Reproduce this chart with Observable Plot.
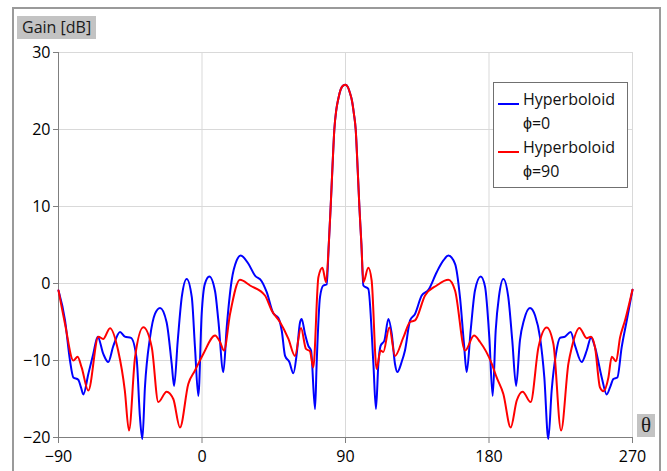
<!DOCTYPE html>
<html>
<head>
<meta charset="utf-8">
<script src="https://cdn.jsdelivr.net/npm/d3@7"></script>
<script src="https://cdn.jsdelivr.net/npm/@observablehq/plot@0.6"></script>
<style>
  html, body { margin: 0; padding: 0; background: #fff; }
  #wrap { position: relative; width: 667px; height: 471px; overflow: hidden; font-family: "Open Sans", sans-serif; }
  #wrap svg { position: absolute; left: 0; top: 0; }
  .frame { position: absolute; left: 12px; top: 7px; width: 649px; height: 500px; border: 2px solid #9a9a9a; border-bottom: none; box-sizing: border-box; pointer-events: none; }
  .ylab { position: absolute; left: 17px; top: 16px; width: 79px; height: 23px; background: #c3c3c3; font-size: 16px; line-height: 23px; padding-left: 5px; box-sizing: border-box; color: #1a1a1a; }
  .xlab { position: absolute; left: 637px; top: 414px; width: 18px; height: 23px; background: #c3c3c3; font-family: "Liberation Serif", "DejaVu Serif", serif; font-size: 21px; line-height: 23px; text-align: center; color: #1a1a1a; }
  .legend { position: absolute; left: 493px; top: 82px; width: 135px; height: 106px; border: 1px solid #707070; background: #fff; box-sizing: border-box; }
  .legend .sw { position: absolute; left: 4px; width: 21px; height: 2px; }
  .legend .tx { position: absolute; left: 29px; font-size: 16px; line-height: 22px; color: #111; white-space: nowrap; }
</style>
</head>
<body>
<div id="wrap"></div>
<script>
// ---- data ----
const xTicks = [-90, 0, 90, 180, 270];
const yTicks = [-20, -10, 0, 10, 20, 30];
const seriesNames = ["Hyperboloid\nϕ=0", "Hyperboloid\nϕ=90"];
const seriesColors = ["#0000ff", "#ff0000"];

const thetaBlue = [-90,-85.9,-82.8,-80.7,-77.6,-75.9,-74.4,-71.3,-68.2,-65.4,-61.9,-58.8,-55.6,-51.4,-48.4,-44.5,-41,-38.9,-37.4,-35.8,-32.6,-29.5,-26.3,-22.2,-19,-17.5,-15.2,-12.7,-9.6,-6.4,-4.4,-2.3,-0.2,1.8,4.6,8.2,10.25,13.4,15.5,18.6,21.75,24.3,29.1,33.2,37.4,40.6,44.7,47.9,50,52.1,54.8,57.3,59.4,61.5,62.5,64.6,66.7,68.4,70.9,71.9,74,76.1,78.2,79.5,80.7,81.8,83,84.2,85.5,87,88.5,90,91.5,93,94,95.3,96.4,97.6,98.7,100,101.2,104.3,107.5,109.1,110.6,112,114.4,116.9,119,121.05,122.5,125.2,127.3,130.5,133.6,137.8,142,147.2,151.4,154.5,158.7,161.8,164.3,166,168.5,171.2,174.8,177.5,180.2,182.3,184.2,186.3,189,192.1,194.6,197,199.4,202,205.7,208.9,212,214.7,217.2,219.3,222,224.5,227.7,231.2,234,238.1,241.3,244,246.5,250.7,253.8,255.9,258,260.5,263.2,266.4,270];
const gainBlue = [-0.9,-4.8,-10,-12.2,-12.5,-13.5,-14.4,-11.75,-9.15,-6.9,-9.15,-10.2,-8.1,-6.3,-6.9,-7.07,-9.8,-17.4,-20.2,-13.5,-7,-3.95,-3.17,-5.03,-10.45,-13.3,-7.4,-1.78,0.6,-1.78,-8.3,-14.6,-3.95,-0.05,0.91,-1,-4.8,-11.5,-5.7,0.39,2.99,3.64,2.56,1.04,0.3,-1.13,-3.86,-4.47,-6.1,-9.4,-10.2,-11.66,-9.15,-5.03,-4.6,-6.55,-8.1,-8.7,-16.3,-10.45,-1.78,-0.26,-0.13,5,10,15,20,22.5,24,25.2,25.7,25.8,25.5,24.6,23.8,22,20,15,10,5,-0.26,-0.7,-10.45,-16.3,-10.45,-8.1,-7.4,-4.6,-6.55,-10.45,-11.5,-10.2,-8.7,-4.8,-3.95,-1.56,-0.83,1.47,2.99,3.64,2.56,-1.78,-7.85,-11.5,-6.1,-0.9,0.91,-0.4,-7,-14.6,-6.1,-1.6,0.6,-1.78,-7.4,-13.3,-7.4,-4.7,-3.17,-4.16,-7,-12.2,-20.2,-13.9,-9.15,-7.07,-6.9,-6.3,-8.1,-10.2,-8.7,-7,-8.3,-12.2,-14.4,-13.5,-12.4,-12.2,-8.3,-4.8,-0.8];

const thetaRed = [-90,-85.9,-80.7,-78,-75.5,-71.3,-65,-62,-57.7,-52.6,-48.4,-45.8,-42,-36.8,-31.5,-27.4,-22.2,-18,-13.8,-8.6,-4.4,0.8,8.2,11.3,13.8,17.6,23.8,30.1,39.5,43.7,48.9,54.2,58.3,62.1,65.2,67.7,69.8,73,75.5,77.8,79.5,80.7,81.8,83,84.2,85.5,87,88.5,90,91.5,93,94,95.3,96.4,97.6,98.7,100,101.2,104.3,106.4,109.5,112,113.7,117.5,121.05,126.3,130.5,133.6,139.9,147.2,154.5,158.7,165,170.6,174.4,181.7,184.8,189,193.6,197.4,201.1,206.1,211,216.2,220.4,225.2,229.8,231.9,236.7,241.3,244,246.5,249.6,251.7,254.9,257,259.7,262.2,265.3,270];
const gainRed = [-0.9,-5.25,-10,-9.5,-10.9,-13.9,-6.9,-7.2,-5.8,-8.7,-13.9,-19.1,-9.6,-5.68,-8.3,-15.4,-14.05,-15,-18.7,-13.05,-11.3,-9.15,-6.76,-7.6,-8.7,-3.95,0.48,-0.26,-1.56,-3.5,-5,-7.2,-9.4,-5.77,-8.5,-8.8,-10.9,0.82,2.03,0.17,5,10,15,20,22.5,24,25.2,25.7,25.8,25.5,24.6,23.8,22,20,15,10,5,0.17,2.03,0.39,-11.1,-8.7,-8.9,-5.7,-9.4,-7,-5,-4.8,-1.56,-0.26,0.48,-0.9,-8.7,-6.76,-7.6,-10.4,-12.2,-14.35,-18.7,-15.2,-14.05,-15.4,-8.3,-5.7,-7.85,-19.1,-10.4,-8.3,-5.77,-7.1,-6.9,-8.3,-13.5,-14,-12.2,-9.5,-10.1,-7,-4.8,-0.8];

const blue = thetaBlue.map((t, i) => ({theta: t, gain: gainBlue[i]}));
const red = thetaRed.map((t, i) => ({theta: t, gain: gainRed[i]}));

const chart = Plot.plot({
  width: 667,
  height: 471,
  marginLeft: 58,
  marginRight: 35,
  marginTop: 52,
  marginBottom: 34,
  x: {domain: [-90, 270]},
  y: {domain: [-20, 30]},
  style: {fontFamily: "'Open Sans', sans-serif", fontSize: "16px", color: "#000", background: "transparent", overflow: "visible"},
  marks: [
    Plot.gridX(xTicks, {stroke: "#d9d9d9", strokeOpacity: 1}),
    Plot.gridY(yTicks, {stroke: "#d9d9d9", strokeOpacity: 1}),
    Plot.ruleX([-90], {stroke: "#7f7f7f"}),
    Plot.ruleY([-20], {stroke: "#7f7f7f"}),
    Plot.axisX(xTicks, {tickSize: 6, tickPadding: 7, stroke: "#7f7f7f", fill: "#000", label: null}),
    Plot.axisY(yTicks, {tickSize: 5, tickPadding: 3, stroke: "#7f7f7f", fill: "#000", label: null}),
    Plot.line(blue, {x: "theta", y: "gain", stroke: seriesColors[0], strokeWidth: 2, curve: "monotone-x"}),
    Plot.line(red, {x: "theta", y: "gain", stroke: seriesColors[1], strokeWidth: 2, curve: "monotone-x"})
  ]
});

const wrap = document.getElementById("wrap");
wrap.appendChild(chart);

const frame = document.createElement("div"); frame.className = "frame"; wrap.appendChild(frame);
const ylab = document.createElement("div"); ylab.className = "ylab"; ylab.textContent = "Gain [dB]"; wrap.appendChild(ylab);
const xlab = document.createElement("div"); xlab.className = "xlab"; xlab.textContent = "θ"; wrap.appendChild(xlab);

const legend = document.createElement("div"); legend.className = "legend";
seriesNames.forEach((name, i) => {
  const [l1, l2] = name.split("\n");
  const sw = document.createElement("div"); sw.className = "sw";
  sw.style.background = seriesColors[i]; sw.style.top = (20 + i * 48) + "px";
  legend.appendChild(sw);
  const t1 = document.createElement("div"); t1.className = "tx"; t1.textContent = l1; t1.style.top = (5 + i * 48) + "px";
  const t2 = document.createElement("div"); t2.className = "tx"; t2.textContent = l2; t2.style.top = (29 + i * 48) + "px";
  legend.appendChild(t1); legend.appendChild(t2);
});
wrap.appendChild(legend);
</script>
</body>
</html>
